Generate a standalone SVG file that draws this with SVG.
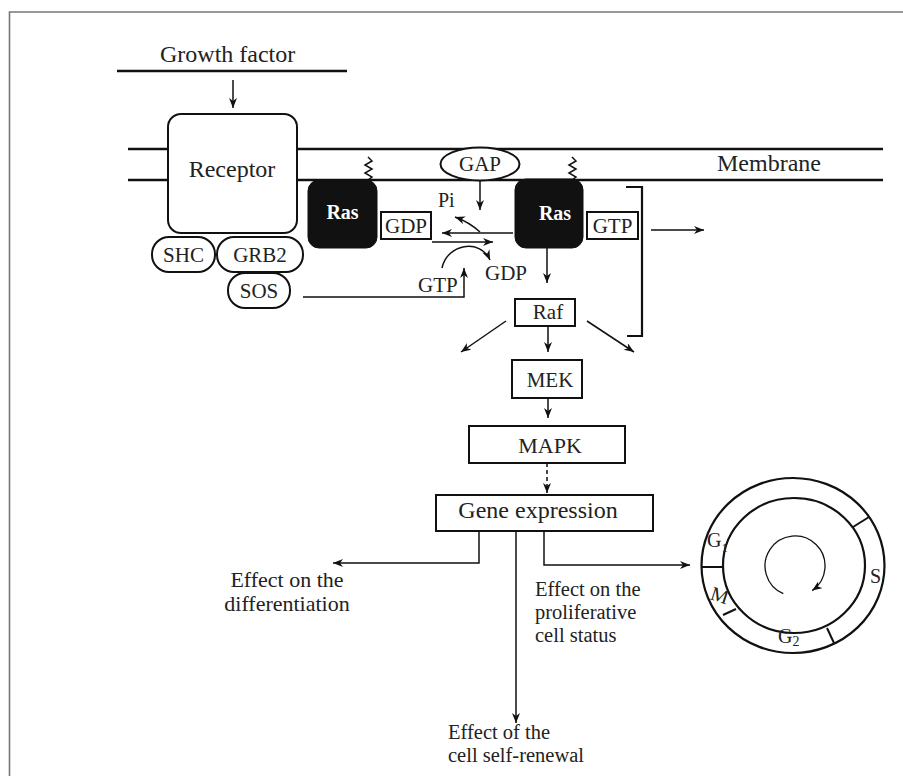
<svg xmlns="http://www.w3.org/2000/svg" width="903" height="776" viewBox="0 0 903 776">
<defs>
<marker id="ah" markerUnits="userSpaceOnUse" markerWidth="12" markerHeight="10" refX="10" refY="4" orient="auto"><path d="M0,0 L10,4 L0,8 L3,4 Z" fill="#111"/></marker>
<style>
.t24{font-size:24px}.t23{font-size:22px}.t22{font-size:20.5px}.t21{font-size:21px}.t20{font-size:20px}
.box{fill:#fff;stroke:#111;stroke-width:2}
.ras{fill:#111;stroke:#111;stroke-width:1}
.rt{fill:#fff;font-weight:bold;font-size:20px}
.ln{fill:none;stroke:#111;stroke-width:1.5}
.arr{fill:none;stroke:#111;stroke-width:1.5;marker-end:url(#ah)}
.mem{stroke:#111;stroke-width:2.5}
.cyc{fill:none;stroke:#111;stroke-width:2.2}
</style>
</defs>
<rect width="903" height="776" fill="#fff"/>
<path d="M9.5,776 V12 H903" fill="none" stroke="#777" stroke-width="1.6"/>
<g font-family="'Liberation Serif', 'DejaVu Serif', 'Times New Roman', serif" fill="#222">

<g id="membrane">
<line class="mem" x1="128" y1="149" x2="883" y2="149"/>
<line class="mem" x1="128" y1="180" x2="883" y2="180"/>
<text class="t24" x="717" y="171">Membrane</text>
</g>

<g id="growth-factor">
<text class="t24" x="160" y="62">Growth factor</text>
<line x1="117" y1="71" x2="347" y2="71" stroke="#111" stroke-width="2.5"/>
</g>

<g id="receptor">
<rect class="box" x="168" y="114" width="129" height="119" rx="13"/>
<text class="t24" x="232" y="177" text-anchor="middle">Receptor</text>
</g>
<g id="shc"><rect class="box" x="152" y="237" width="63" height="35" rx="17"/><text class="t21" x="183.5" y="262" text-anchor="middle">SHC</text></g>
<g id="grb2"><rect class="box" x="217" y="237" width="86" height="35" rx="17"/><text class="t21" x="260" y="262" text-anchor="middle">GRB2</text></g>
<g id="sos"><rect class="box" x="228" y="273" width="62" height="35" rx="17"/><text class="t21" x="259" y="298" text-anchor="middle">SOS</text></g>

<g id="ras-gdp">
<polyline class="ln" points="368,157 372,161 365,165 372,169 365,173 372,177 368,180"/>
<rect class="ras" x="308" y="180" width="69" height="68" rx="11"/>
<text class="rt" x="342.5" y="219" text-anchor="middle">Ras</text>
<rect class="box" x="381" y="212" width="50" height="27"/>
<text class="t21" x="406" y="233" text-anchor="middle">GDP</text>
</g>

<g id="gap">
<ellipse class="box" cx="480" cy="164" rx="39.5" ry="16.5"/>
<text class="t21" x="480" y="171" text-anchor="middle">GAP</text>
</g>

<g id="ras-gtp">
<polyline class="ln" points="572,157 576,161 569,165 576,169 569,173 576,177 572,180"/>
<rect class="ras" x="515" y="179" width="68" height="69" rx="11"/>
<text class="rt" x="555" y="220" text-anchor="middle">Ras</text>
<rect class="box" x="587" y="212" width="51" height="27"/>
<text class="t21" x="612.5" y="233" text-anchor="middle">GTP</text>
<polyline class="ln" points="626,187 642,187 642,336 627,336" style="stroke-width:2.2"/>
</g>

<g id="labels-exchange">
<text class="t20" x="438" y="207">Pi</text>
<text class="t21" x="485" y="280">GDP</text>
<text class="t21" x="418" y="292">GTP</text>
</g>

<g id="raf"><rect class="box" x="515" y="299" width="60" height="27"/><text class="t21" x="548" y="319" text-anchor="middle">Raf</text></g>
<g id="mek"><rect class="box" x="512" y="360" width="70" height="38"/><text class="t21" x="550" y="387" text-anchor="middle">MEK</text></g>
<g id="mapk"><rect class="box" x="469" y="426" width="156" height="37"/><text class="t23" x="550" y="453" text-anchor="middle">MAPK</text></g>
<g id="gene-expression"><rect class="box" x="436" y="495" width="217" height="36"/><text class="t24" x="538" y="518" text-anchor="middle">Gene expression</text></g>

<g id="effect-diff"><text class="t23" text-anchor="middle"><tspan x="287" y="587">Effect on the</tspan><tspan x="287" y="611">differentiation</tspan></text></g>
<g id="effect-prolif"><text class="t22"><tspan x="535" y="596">Effect on the</tspan><tspan x="535" y="619">proliferative</tspan><tspan x="535" y="642">cell status</tspan></text></g>
<g id="effect-renewal"><text class="t22"><tspan x="448" y="739">Effect of the</tspan><tspan x="448" y="762">cell self-renewal</tspan></text></g>

<g id="cell-cycle">
<ellipse class="cyc" cx="793" cy="565.5" rx="91.5" ry="87.5"/>
<ellipse class="cyc" cx="794" cy="565.5" rx="71" ry="67.5"/>
<line class="ln" x1="702" y1="567" x2="723" y2="567" style="stroke-width:2"/>
<line class="ln" x1="853" y1="527" x2="869" y2="517" style="stroke-width:2"/>
<line class="ln" x1="723" y1="615" x2="736" y2="609" style="stroke-width:2"/>
<line class="ln" x1="827" y1="628" x2="834" y2="643" style="stroke-width:2"/>
<text class="t20" x="707" y="547">G<tspan font-size="13" dy="5">1</tspan></text>
<text class="t20" x="870" y="583">S</text>
<text class="t20" x="711" y="602" transform="rotate(18 720 595)">M</text>
<text class="t20" x="778" y="643">G<tspan font-size="14" dy="3">2</tspan></text>
<path class="arr" d="M783.3,593.6 A30,30 0 1 1 812.2,590.6" style="stroke-width:1.3"/>
</g>

<g id="connectors">
<line class="arr" x1="233" y1="80" x2="233" y2="108"/>
<line class="arr" x1="480" y1="181" x2="480" y2="210"/>
<path class="arr" d="M480,232 Q469,222 455,217"/>
<line class="arr" x1="513" y1="233" x2="442" y2="233"/>
<line class="arr" x1="432" y1="242" x2="493" y2="242"/>
<path class="arr" d="M442,268 C447,244 480,238 490,260"/>
<path class="arr" d="M303,297 H464 V268"/>
<line class="arr" x1="651" y1="230" x2="704" y2="230"/>
<line class="arr" x1="547" y1="248" x2="547" y2="283"/>
<line class="arr" x1="548" y1="326" x2="548" y2="352"/>
<line class="arr" x1="506" y1="321" x2="461" y2="352"/>
<line class="arr" x1="587" y1="321" x2="634" y2="352"/>
<line class="arr" x1="548" y1="398" x2="548" y2="418"/>
<line class="arr" x1="547" y1="463" x2="547" y2="493" stroke-dasharray="4,3"/>
<path class="arr" d="M479,531 V563 H333"/>
<line class="arr" x1="516" y1="531" x2="516" y2="723"/>
<path class="arr" d="M544,531 V565 H690"/>
</g>
</g>
</svg>
